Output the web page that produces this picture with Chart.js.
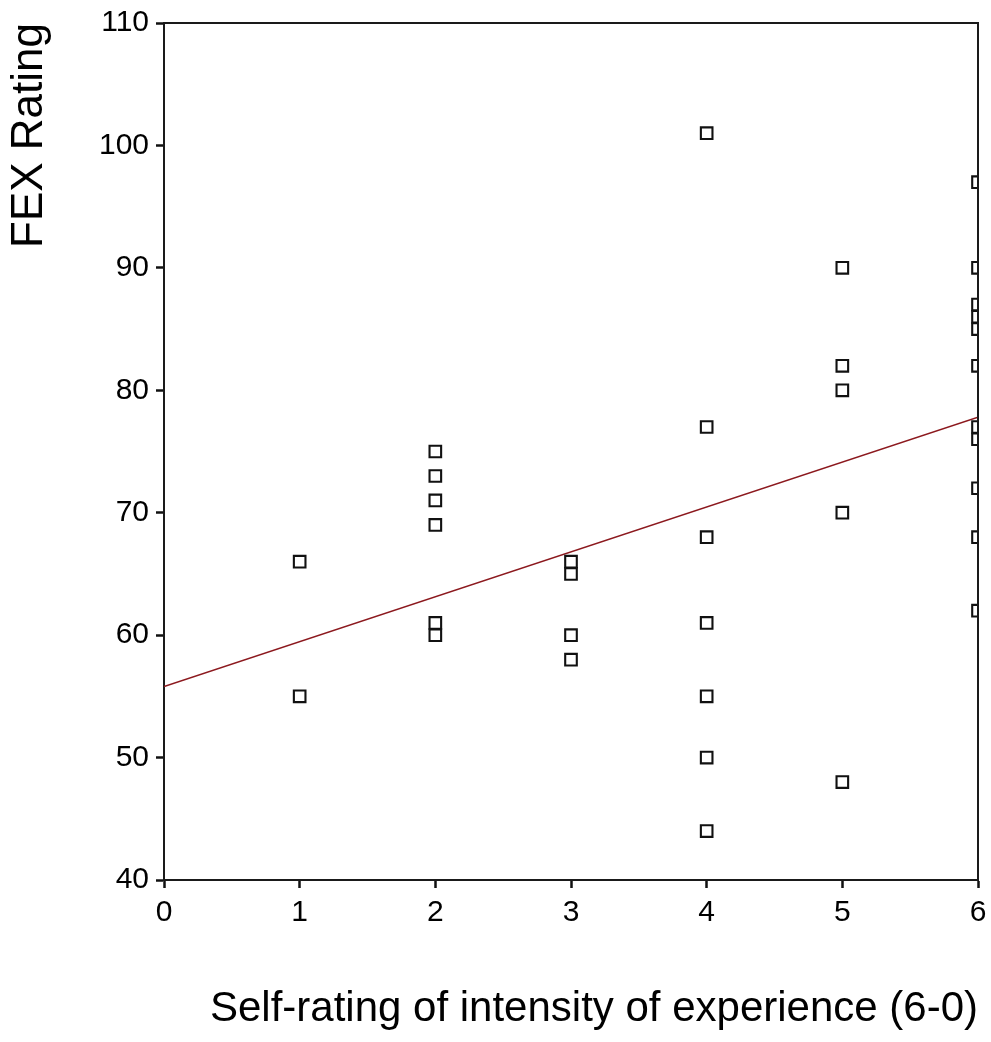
<!DOCTYPE html>
<html>
<head>
<meta charset="utf-8">
<script src="https://cdn.jsdelivr.net/npm/chart.js@4"></script>
<style>
  html, body { margin: 0; padding: 0; background: #fff; }
  #wrap { width: 991px; height: 1042px; }
</style>
</head>
<body>
<div id="wrap"><canvas id="c" width="991" height="1042"></canvas></div>
<script>
// Self-rating (x) and FEX Rating (y), paired
const selfRating = [1, 1,
  2, 2, 2, 2, 2, 2,
  3, 3, 3, 3,
  4, 4, 4, 4, 4, 4, 4,
  5, 5, 5, 5, 5,
  6, 6, 6, 6, 6, 6, 6, 6, 6, 6, 6];
const fexRating = [66, 55,
  75, 73, 71, 69, 61, 60,
  66, 65, 60, 58,
  101, 77, 68, 61, 55, 50, 44,
  90, 82, 80, 70, 48,
  97, 90, 87, 86, 85, 82, 77, 76, 72, 68, 62];
// Fitted regression line end points
const fitX = [0, 6];
const fitY = [55.8, 77.8];
const xTicks = [0, 1, 2, 3, 4, 5, 6];
const yTicks = [40, 50, 60, 70, 80, 90, 100, 110];

const FONT = "'Liberation Sans', Arial, sans-serif";

const framePlugin = {
  id: 'frame',
  afterDatasetsDraw(chart) {
    const { ctx, chartArea: a } = chart;
    ctx.save();
    ctx.strokeStyle = '#1a1a1a';
    ctx.lineWidth = 2;
    ctx.beginPath();
    ctx.moveTo(a.left, a.top);
    ctx.lineTo(a.right, a.top);
    ctx.lineTo(a.right, a.bottom);
    ctx.stroke();
    ctx.restore();
  }
};

new Chart(document.getElementById('c'), {
  type: 'scatter',
  data: {
    datasets: [
      {
        type: 'scatter',
        data: selfRating.map((x, i) => ({ x, y: fexRating[i] })),
        pointStyle: 'rect',
        pointRadius: 8.2,
        pointHoverRadius: 8.2,
        borderColor: '#111',
        backgroundColor: 'rgba(0,0,0,0)',
        borderWidth: 2.1,
        clip: 0,
        order: 1
      },
      {
        type: 'line',
        data: fitX.map((x, i) => ({ x, y: fitY[i] })),
        borderColor: 'rgb(140,25,30)',
        borderWidth: 1.7,
        pointRadius: 0,
        fill: false,
        order: 2
      }
    ]
  },
  options: {
    responsive: false,
    animation: false,
    devicePixelRatio: 1,
    layout: { padding: { top: 23, right: 13, left: 0, bottom: 0 } },
    plugins: { legend: { display: false }, tooltip: { enabled: false } },
    scales: {
      x: {
        type: 'linear',
        min: 0, max: 6,
        afterFit(s) { s.height = 162; s.paddingLeft = 0; s.paddingRight = 0; },
        afterBuildTicks(s) { s.ticks = xTicks.map(v => ({ value: v })); },
        ticks: { color: '#000', font: { family: FONT, size: 30 }, padding: 7, maxRotation: 0 },
        grid: { drawOnChartArea: false, drawTicks: true, tickLength: 8, tickWidth: 2.5, tickColor: '#111' },
        border: { display: true, color: '#1a1a1a', width: 2 },
        title: {
          display: true,
          text: 'Self-rating of intensity of experience (6-0)',
          align: 'end',
          color: '#000',
          font: { family: FONT, size: 42 },
          padding: { top: 0, bottom: 7 }
        }
      },
      y: {
        type: 'linear',
        min: 40, max: 110,
        afterFit(s) { s.width = 164; s.paddingTop = 0; s.paddingBottom = 0; },
        afterBuildTicks(s) { s.ticks = yTicks.map(v => ({ value: v })); },
        ticks: { color: '#000', font: { family: FONT, size: 30 }, padding: 7 },
        grid: { drawOnChartArea: false, drawTicks: true, tickLength: 8, tickWidth: 2.5, tickColor: '#111' },
        border: { display: true, color: '#1a1a1a', width: 2 },
        title: {
          display: true,
          text: 'FEX Rating',
          align: 'end',
          color: '#000',
          font: { family: FONT, size: 44 },
          padding: { top: 3, bottom: 0 }
        }
      }
    }
  },
  plugins: [framePlugin]
});
</script>
</body>
</html>
